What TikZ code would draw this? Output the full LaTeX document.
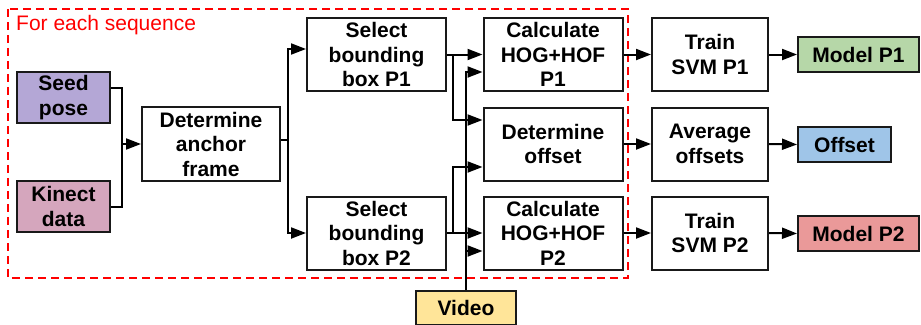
\documentclass[tikz,border=0pt]{standalone}
\usepackage{fontspec}
\setmainfont{Liberation Sans}
\usetikzlibrary{positioning,calc,arrows.meta}

\definecolor{seedcol}{HTML}{B4A7D6}
\definecolor{kinectcol}{HTML}{D5A6BD}
\definecolor{videocol}{HTML}{FFE599}
\definecolor{modelonecol}{HTML}{B6D7A8}
\definecolor{offsetcol}{HTML}{9FC5E8}
\definecolor{modeltwocol}{HTML}{EA9999}

\begin{document}
\begin{tikzpicture}[x=1pt,y=-1pt,
  box/.style={draw=black!90, line width=2pt, inner sep=0pt, align=center,
    font=\fontsize{21}{24.5}\selectfont\bfseries},
  stage/.style={box, minimum width=139pt, minimum height=73pt},
  train/.style={box, minimum width=116pt, minimum height=73pt},
  result/.style={box, minimum height=35pt},
  link/.style={line width=2pt, -{Triangle[length=15pt,width=11pt]}},
  wire/.style={line width=2pt}]
\useasboundingbox (0,0) rectangle (921,324);
% sequence frame
\draw[red, line width=2pt, dash pattern=on 8pt off 5pt] (8,9) rectangle (628,278);
\node[red, anchor=west, inner sep=0pt, font=\fontsize{21}{24}\selectfont] (seqlabel) at (16,25) {For each sequence};
% inputs
\node[box, fill=seedcol, minimum width=93pt, minimum height=51pt] (seed) at (63.5,97.5) {Seed\\pose};
\node[box, fill=kinectcol, minimum width=93pt, minimum height=51pt] (kinect) at (63.5,206.5) {Kinect\\data};
\node[box, fill=videocol, minimum width=100pt, minimum height=34pt] (video) at (466,308) {Video};
% processing
\node[stage, minimum width=138pt, minimum height=74pt] (anchor) at (211,144) {Determine\\anchor\\frame};
\node[stage] (sel1) at (376.5,54.5) {Select\\bounding\\box P1};
\node[stage] (sel2) at (376.5,233) {Select\\bounding\\box P2};
\node[stage] (calc1) at (553,54.5) {Calculate\\HOG+HOF\\P1};
\node[stage] (offs) at (553,144) {Determine\\offset};
\node[stage] (calc2) at (553,233) {Calculate\\HOG+HOF\\P2};
\node[train] (svm1) at (710,54.5) {Train\\SVM P1};
\node[train] (avg) at (710,144) {Average\\offsets};
\node[train] (svm2) at (710,233) {Train\\SVM P2};
% outputs
\node[result, fill=modelonecol, minimum width=121pt] (model1) at (858.5,54.5) {Model P1};
\node[result, fill=offsetcol, minimum width=93pt] (offout) at (844.5,144.5) {Offset};
\node[result, fill=modeltwocol, minimum width=121pt] (model2) at (858.5,233.5) {Model P2};
% merge into anchor frame
\coordinate (join) at ($(anchor.west)+(-19,0)$);
\draw[wire] ([yshift=9.5pt]seed.east) -| (join) |- (kinect.east);
\draw[link] (join) -- (anchor.west);
% split to bounding boxes
\coordinate (split) at ($([yshift=4pt]anchor.east)+(7,0)$);
\draw[wire] ([yshift=4pt]anchor.east) -- (split);
\draw[link] (split) |- ([yshift=5.5pt]sel1.west);
\draw[link] (split) |- (sel2.west);
% features and offset
\draw[link] (sel1.east) -- (calc1.west);
\draw[link] ($(sel1.east)+(6,0)$) |- ([yshift=24pt]offs.west);
\draw[link] (sel2.east) -- (calc2.west);
\draw[link] ($(sel2.east)+(6,0)$) |- ([yshift=-23pt]offs.west);
\coordinate (vidin) at ([yshift=-18pt]calc2.west);
\draw[link] (video.north) |- ([yshift=-17.5pt]calc1.west);
\draw[link] (video.north |- vidin) -- (vidin);
% training
\draw[link] (calc1.east) -- (svm1.west);
\draw[link] (offs.east) -- (avg.west);
\draw[link] (calc2.east) -- (svm2.west);
\draw[link] (svm1.east) -- (model1.west);
\draw[link] (avg.east) -- (offout.west);
\draw[link] (svm2.east) -- (model2.west);
\end{tikzpicture}
\end{document}
